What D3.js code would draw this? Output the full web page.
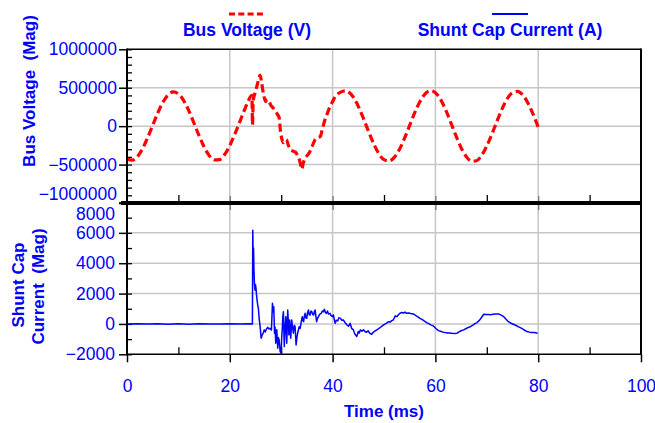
<!DOCTYPE html>
<html>
<head>
<meta charset="utf-8">
<script src="https://cdn.jsdelivr.net/npm/d3@7"></script>
<style>
html,body{margin:0;padding:0;background:#fff;}
svg{display:block;font-family:"Liberation Sans",Arial,sans-serif;}
</style>
</head>
<body>
<svg id="chart" width="655" height="423"></svg>
<script>
// ---------------- DATA ----------------
const seriesNames = ["Bus Voltage (V)", "Shunt Cap Current (A)"];
const xTicks = [0, 20, 40, 60, 80, 100];
const xMinorTicks = [10, 30, 50, 70, 90];
const voltTicks = [-1000000, -500000, 0, 500000, 1000000];
const currTicks = [-2000, 0, 2000, 4000, 6000, 8000];

// Bus voltage: [time ms, volts]
const busVoltage = [
  [0,-425000],[1,-443000],[2,-398000],[3,-297000],[4,-153000],[5,11000],[6,174000],[7,313000],
  [8,407000],[9,445000],[10,420000],[11,336000],[12,205000],[13,44000],[14,-121000],[15,-270000],
  [16,-382000],[17,-439000],[18,-435000],[19,-369000],[20,-252000],[21,-100000],[22,66000],
  [23,235000],[23.6,330000],[24.3,400000],[24.42,20000],[24.55,330000],[25.0,450000],[25.5,580000],
  [25.9,665000],[26.2,560000],[26.6,400000],[27.0,320000],[27.3,345000],[27.6,330000],[28.0,270000],
  [28.4,240000],[28.8,200000],[29.3,150000],[29.6,110000],[29.85,-60000],[30.1,-160000],[30.4,-215000],
  [30.7,-190000],[31.0,-175000],[31.4,-250000],[31.8,-310000],[32.3,-325000],[32.8,-340000],
  [33.2,-385000],[33.6,-450000],[34.0,-560000],[34.3,-480000],[34.7,-415000],[35.2,-370000],
  [35.6,-330000],[36.1,-250000],[36.6,-175000],[37.1,-150000],[37.6,-135000],[38.0,-40000],
  [38.5,80000],[39.0,170000],[39.5,255000],[40.0,320000],[40.5,385000],[41.0,420000],[41.5,440000],
  [42.0,455000],[42.5,460000],[43,450000],[44,380000],[45,258000],[46,101000],[47,-69000],[48,-230000],
  [49,-358000],[50,-436000],[51,-453000],[52,-407000],[53,-303000],[54,-157000],[55,11000],[56,178000],
  [57,322000],[58,420000],[59,462000],[60,436000],[61,348000],[62,212000],[63,46000],[64,-125000],
  [65,-280000],[66,-395000],[67,-455000],[68,-450000],[69,-380000],[70,-258000],[71,-102000],
  [72,68000],[73,229000],[74,358000],[75,436000],[76,453000],[77,406000],[78,302000],[79,156000],[80,-12000]
];

// Shunt capacitor current: [time ms, amps]
const shuntCurrent = [
  [0,0],[2,20],[4,-10],[6,15],[8,-20],[10,10],[12,-15],[14,20],[16,0],[18,-10],[20,15],[22,-5],[24,10],[24.4,0],
  [24.47,6180],[24.55,4200],[24.62,5000],[24.7,3550],[24.8,2600],[24.9,2230],[25.0,2600],[25.1,2340],
  [25.2,1900],[25.3,1580],[25.45,1200],[25.56,1030],[25.7,400],[25.9,-180],[26.1,-940],[26.2,-850],
  [26.3,-720],[26.5,-600],[26.7,-390],[26.9,-530],[27.1,-350],[27.4,-220],[27.6,-330],[27.8,-290],
  [28.1,-390],[28.3,1360],[28.45,800],[28.55,1140],[28.7,-610],[28.8,-200],[28.94,-1270],[29.05,-600],
  [29.14,-390],[29.33,-1600],[29.45,-900],[29.6,-1050],[29.8,-1820],[29.98,-1930],[30.1,-900],
  [30.2,-390],[30.3,400],[30.43,810],[30.6,-1490],[30.75,-300],[30.9,480],[31.08,-1270],[31.27,920],
  [31.4,100],[31.5,-720],[31.66,260],[31.85,-940],[32.05,260],[32.2,-200],[32.37,-610],[32.55,-100],
  [32.7,-170],[32.9,-1380],[33.05,-900],[33.2,-610],[33.35,-400],[33.5,-180],[33.7,-300],[33.9,150],
  [34.1,480],[34.25,200],[34.36,150],[34.5,500],[34.65,700],[34.8,400],[34.97,370],[35.1,700],
  [35.3,920],[35.45,600],[35.6,590],[35.8,850],[35.95,810],[36.1,650],[36.3,590],[36.45,800],
  [36.6,920],[36.75,500],[36.9,150],[37.05,350],[37.25,480],[37.5,650],[37.8,700],[38.0,850],
  [38.2,800],[38.4,970],[38.6,750],[38.8,700],[39.0,850],[39.2,650],[39.5,700],[39.7,550],[39.96,480],
  [40.16,590],[40.35,250],[40.5,40],[40.7,250],[41.0,200],[41.2,400],[41.5,370],[41.8,250],[42.1,260],
  [42.4,100],[42.8,-70],[43.1,-150],[43.4,40],[43.7,-290],[44.05,-390],[44.3,-650],[44.7,-830],
  [45.0,-500],[45.2,-600],[45.4,-390],[45.7,-480],[46.0,-390],[46.3,-500],[46.6,-550],[46.9,-450],
  [47.2,-600],[47.6,-680],[47.9,-550],[48.2,-480],[48.6,-390],[48.9,-330],[49.2,-250],[49.6,-150],
  [50.0,-50],[50.5,60],[50.9,150],[51.2,120],[51.5,220],[51.8,260],[52.2,530],[52.5,480],[52.8,600],
  [53.1,700],[53.5,750],[53.8,720],[54.1,780],[54.4,700],[54.8,720],[55.2,690],[55.7,660],[56.2,550],
  [56.6,470],[57.0,370],[57.4,300],[57.8,200],[58.3,90],[58.7,20],[59.1,-60],[59.6,-130],[60.1,-300],
  [60.6,-440],[61.0,-480],[61.5,-540],[61.9,-570],[62.4,-600],[62.8,-590],[63.2,-610],[63.7,-630],
  [64.2,-610],[64.6,-520],[65.0,-450],[65.5,-390],[66.0,-300],[66.4,-230],[66.8,-180],[67.3,-80],
  [67.7,20],[68.1,90],[68.6,250],[69.0,440],[69.4,640],[69.8,620],[70.2,630],[70.7,610],[71.2,640],
  [71.7,650],[72.3,660],[72.8,580],[73.3,480],[73.7,320],[74.2,150],[74.8,30],[75.5,-70],[76.1,-180],
  [76.8,-290],[77.3,-400],[77.8,-500],[78.3,-540],[78.8,-570],[79.3,-560],[79.9,-610]
];

// ---------------- CHART ----------------
const BLUE = "#0000ff";
const svg = d3.select("#chart");
const L = 127, R = 641, T1 = 49.3, B1 = 203, T2 = 202.5, B2 = 354.3;

const x = d3.scaleLinear().domain([0, 100]).range([L, R]);
const yV = d3.scaleLinear().domain([-1000000, 1000000]).range([B1, T1]);
const yI = d3.scaleLinear().domain([-2000, 8000]).range([B2, T2]);

const gridColor = "#c6c6c6";
const grid = svg.append("g").attr("stroke", gridColor).attr("stroke-width", 1.5);
grid.selectAll(".hv").data([-500000, 0, 500000]).join("line")
  .attr("x1", L).attr("x2", R).attr("y1", d => yV(d)).attr("y2", d => yV(d));
grid.selectAll(".hi").data([0, 2000, 4000, 6000]).join("line").attr("class","hi")
  .attr("x1", L).attr("x2", R).attr("y1", d => yI(d)).attr("y2", d => yI(d));
grid.selectAll(".vv").data([20, 40, 60, 80]).join("line").attr("class","vv")
  .attr("x1", d => x(d)).attr("x2", d => x(d)).attr("y1", T1).attr("y2", B2);

function clean(g){ g.select(".domain").remove(); }
const fmt = d3.format("d");
const TF = 17.5;

// left upper axis
svg.append("g").attr("transform", `translate(${L},0)`)
  .call(d3.axisLeft(yV).tickValues(voltTicks).tickSize(8).tickPadding(2).tickFormat(fmt))
  .call(clean)
  .call(g => g.selectAll("text").attr("fill", BLUE).attr("font-size", TF)
    .attr("dy", d => d === -1000000 ? "-0.22em" : "0.32em"))
  .call(g => g.selectAll("line").attr("stroke", "#000").attr("stroke-width", 1.5));
svg.append("g").attr("transform", `translate(${L},0)`)
  .call(d3.axisRight(yV).tickValues(d3.range(-1000000, 1000001, 100000)).tickSize(5).tickFormat(""))
  .call(clean)
  .call(g => g.selectAll("line").attr("stroke", "#000").attr("stroke-width", 1.3));

// left lower axis
svg.append("g").attr("transform", `translate(${L},0)`)
  .call(d3.axisLeft(yI).tickValues(currTicks).tickSize(8).tickPadding(4).tickFormat(fmt))
  .call(clean)
  .call(g => g.selectAll("text").attr("fill", BLUE).attr("font-size", TF)
    .attr("dy", d => d === 8000 ? "0.95em" : "0.32em"))
  .call(g => g.selectAll("line").attr("stroke", "#000").attr("stroke-width", 1.5));
svg.append("g").attr("transform", `translate(${L},0)`)
  .call(d3.axisRight(yI).tickValues(d3.range(-2000, 8001, 1000)).tickSize(5).tickFormat(""))
  .call(clean)
  .call(g => g.selectAll("line").attr("stroke", "#000").attr("stroke-width", 1.3));

// bottom axis
svg.append("g").attr("transform", `translate(0,${B2})`)
  .call(d3.axisBottom(x).tickValues(xTicks).tickSize(8).tickPadding(17).tickFormat(fmt))
  .call(clean)
  .call(g => g.selectAll("text").attr("fill", BLUE).attr("font-size", TF))
  .call(g => g.selectAll("line").attr("stroke", "#000").attr("stroke-width", 1.5));
svg.append("g").attr("transform", `translate(0,${B2})`)
  .call(d3.axisTop(x).tickValues(xMinorTicks).tickSize(7).tickFormat(""))
  .call(clean)
  .call(g => g.selectAll("line").attr("stroke", "#000").attr("stroke-width", 1.3));
svg.append("g").attr("transform", `translate(0,${B1 - 2})`)
  .call(d3.axisTop(x).tickValues(xMinorTicks).tickSize(6).tickFormat(""))
  .call(clean)
  .call(g => g.selectAll("line").attr("stroke", "#000").attr("stroke-width", 1.3));
svg.append("g").attr("transform", `translate(0,${B1 - 7})`)
  .call(d3.axisBottom(x).tickValues([20, 40, 60, 80]).tickSize(14).tickFormat(""))
  .call(clean)
  .call(g => g.selectAll("line").attr("stroke", "#777").attr("stroke-width", 1.3));

// data lines
const lineV = d3.line().x(d => x(d[0])).y(d => yV(d[1])).curve(d3.curveMonotoneX);
const lineI = d3.line().x(d => x(d[0])).y(d => yI(d[1]));

svg.append("path").datum(shuntCurrent).attr("d", lineI)
  .attr("fill", "none").attr("stroke", BLUE).attr("stroke-width", 1.5).attr("stroke-linejoin", "round");
svg.append("path").datum(busVoltage).attr("d", lineV)
  .attr("fill", "none").attr("stroke", "#ff0000").attr("stroke-width", 3.2)
  .attr("stroke-dasharray", "8,4");

// frame
const frame = svg.append("g").attr("stroke", "#000");
frame.append("line").attr("x1", L).attr("x2", R).attr("y1", T1).attr("y2", T1).attr("stroke-width", 1.6);
frame.append("line").attr("x1", R).attr("x2", R).attr("y1", T1 - 0.8).attr("y2", B2).attr("stroke-width", 2);
frame.append("line").attr("x1", L).attr("x2", L).attr("y1", T1 - 0.8).attr("y2", B2 + 1).attr("stroke-width", 2);
frame.append("line").attr("x1", L).attr("x2", R + 1).attr("y1", B2).attr("y2", B2).attr("stroke-width", 1.6);
frame.append("line").attr("x1", L - 6).attr("x2", R + 1).attr("y1", yV(-1000000)).attr("y2", yV(-1000000)).attr("stroke-width", 4);

// legend
const legend = [
  {name: seriesNames[0], cx: 247, color: "#ff0000", dash: "6,3.3", w: 3.2},
  {name: seriesNames[1], cx: 510, color: BLUE, dash: null, w: 2.2}
];
legend.forEach(l => {
  svg.append("line").attr("x1", l.cx - 18).attr("x2", l.cx + 18).attr("y1", 14).attr("y2", 14)
    .attr("stroke", l.color).attr("stroke-width", l.w).attr("stroke-dasharray", l.dash);
  svg.append("text").attr("x", l.cx).attr("y", 36).attr("text-anchor", "middle")
    .attr("font-size", 17.5).attr("font-weight", "bold").attr("fill", BLUE).text(l.name);
});

// axis titles
svg.append("text").attr("transform", "translate(35,91) rotate(-90)").attr("text-anchor", "middle")
  .attr("font-size", 17).attr("font-weight", "bold").attr("fill", BLUE).attr("xml:space", "preserve")
  .text("Bus Voltage  (Mag)");
svg.append("text").attr("transform", "translate(24,285) rotate(-90)").attr("text-anchor", "middle")
  .attr("font-size", 17).attr("font-weight", "bold").attr("fill", BLUE)
  .text("Shunt Cap");
svg.append("text").attr("transform", "translate(44,286.5) rotate(-90)").attr("text-anchor", "middle")
  .attr("font-size", 17).attr("font-weight", "bold").attr("fill", BLUE).attr("xml:space", "preserve")
  .text("Current  (Mag)");
svg.append("text").attr("x", 384).attr("y", 417).attr("text-anchor", "middle")
  .attr("font-size", 17).attr("font-weight", "bold").attr("fill", BLUE).text("Time (ms)");
</script>
</body>
</html>
